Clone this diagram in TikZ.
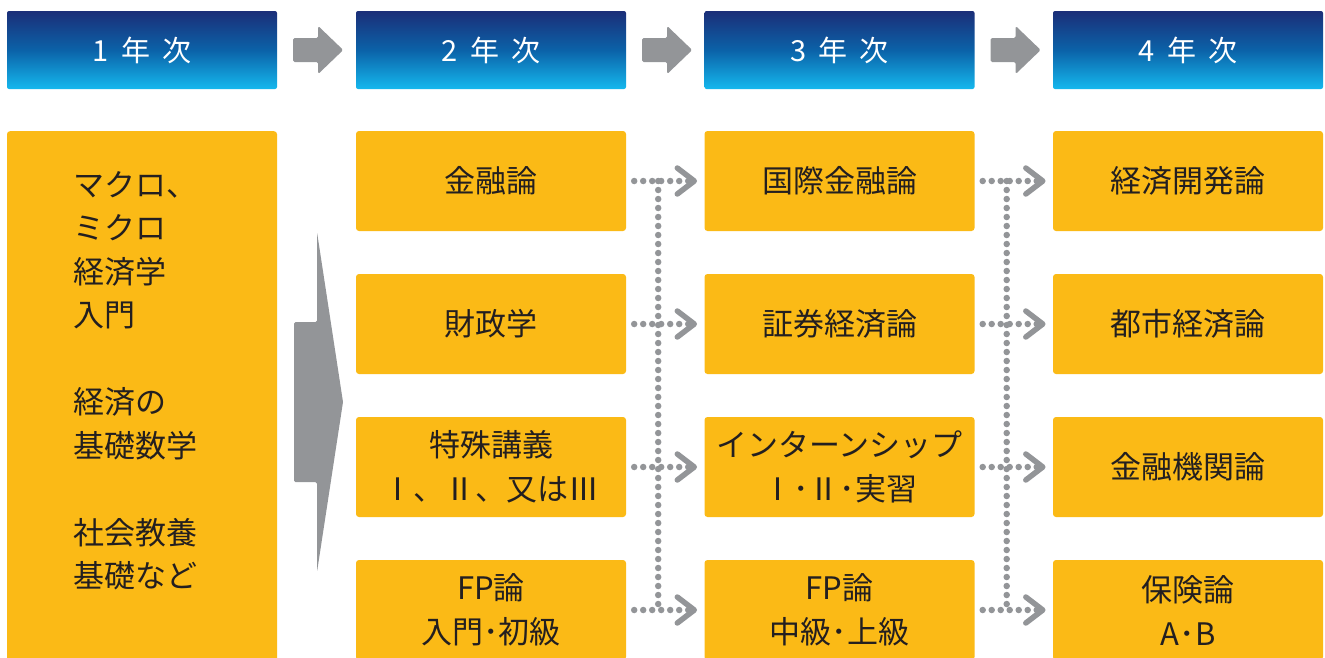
\documentclass[tikz,border=0pt]{standalone}
\usepackage{fontspec}
\setmainfont{Noto Sans CJK JP}
\usetikzlibrary{calc}
\definecolor{ybox}{HTML}{FBBA16}
\definecolor{agray}{HTML}{939598}
\definecolor{txt}{HTML}{231F20}
\definecolor{htop}{HTML}{1B2E78}
\definecolor{hmid}{HTML}{0B62A8}
\definecolor{hbot}{HTML}{15B8EE}
\begin{document}
\begin{tikzpicture}[x=1pt,y=-1pt,
 hdr/.style={rounded corners=2pt, minimum width=270pt, minimum height=78pt, top color=htop, bottom color=hbot, middle color=hmid, text=white, font=\fontsize{29}{32}\selectfont, inner sep=0pt},
 course/.style={fill=ybox, rounded corners=3pt, minimum width=270pt, minimum height=100pt, text=txt, align=center, font=\fontsize{31}{44}\selectfont, inner sep=0pt},
 coltext/.style={text=txt, align=left, text width=200pt, font=\fontsize{31}{43.5}\selectfont, inner sep=0pt},
 dots/.style={agray, line width=6.5pt, line cap=round, dash pattern=on 0pt off 9pt},
 chev/.style={agray, line width=5.5pt, line cap=round, line join=round},
 bigarrow/.style={fill=agray, draw=none, rounded corners=1.5pt}]
\useasboundingbox (0,0) rectangle (1325,657);
\clip (0,0) rectangle (1325,657);
% headers
\node[hdr] (h1) at (142,50) {\raisebox{-2pt}{1\hspace{12pt}年\hspace{12pt}次}};
\node[hdr] (h2) at (491,50) {\raisebox{-2pt}{2\hspace{12pt}年\hspace{12pt}次}};
\node[hdr] (h3) at (839.5,50) {\raisebox{-2pt}{3\hspace{12pt}年\hspace{12pt}次}};
\node[hdr] (h4) at (1188,50) {\raisebox{-2pt}{4\hspace{12pt}年\hspace{12pt}次}};
\foreach \a in {h1,h2,h3}
  \fill[agray, rounded corners=1.5pt, shift={(\a.east)}] (16,-12) -- (41,-12) -- (41,-24) -- (66,0) -- (41,24) -- (41,12) -- (16,12) -- cycle;
% first year
\node[course, minimum height=540pt, anchor=north] (c1) at (142,131) {};
\node[coltext, anchor=base west] (t1) at (73,196) {マクロ、\\ミクロ\\経済学\\入門\\[43.5pt]経済の\\基礎数学\\[43.5pt]社会教養\\基礎など};
\fill[bigarrow] (294,322) -- (317,322) -- (317,232) -- (343,402) -- (317,572) -- (317,482) -- (294,482) -- cycle;
% courses
\node[course] (c2r1) at (491,181) {金融論};
\node[course] (c2r2) at (491,324) {財政学};
\node[course] (c2r3) at (491,467) {特殊講義\\Ⅰ、Ⅱ、又はⅢ};
\node[course] (c2r4) at (491,610) {FP論\\入門･初級};
\node[course] (c3r1) at (839.5,181) {国際金融論};
\node[course] (c3r2) at (839.5,324) {証券経済論};
\node[course] (c3r3) at (839.5,467) {インターンシップ\\Ⅰ･Ⅱ･実習};
\node[course] (c3r4) at (839.5,610) {FP論\\中級･上級};
\node[course] (c4r1) at (1188,181) {経済開発論};
\node[course] (c4r2) at (1188,324) {都市経済論};
\node[course] (c4r3) at (1188,467) {金融機関論};
\node[course] (c4r4) at (1188,610) {保険論\\A･B};
% dotted connectors
\foreach \f/\t in {c2/c3,c3/c4}{
  \draw[dots] ($(\f r1.east)+(32,0)$) -- ($(\f r4.east)+(32,0)$);
  \foreach \r in {1,2,3,4}{
    \draw[dots] ($(\f r\r.east)+(8,0)$) -- ($(\t r\r.west)+(-14,0)$);
    \draw[chev] ($(\t r\r.west)+(-27,-13)$) -- ($(\t r\r.west)+(-10,0)$) -- ($(\t r\r.west)+(-27,13)$);
  }
}
\end{tikzpicture}
\end{document}
